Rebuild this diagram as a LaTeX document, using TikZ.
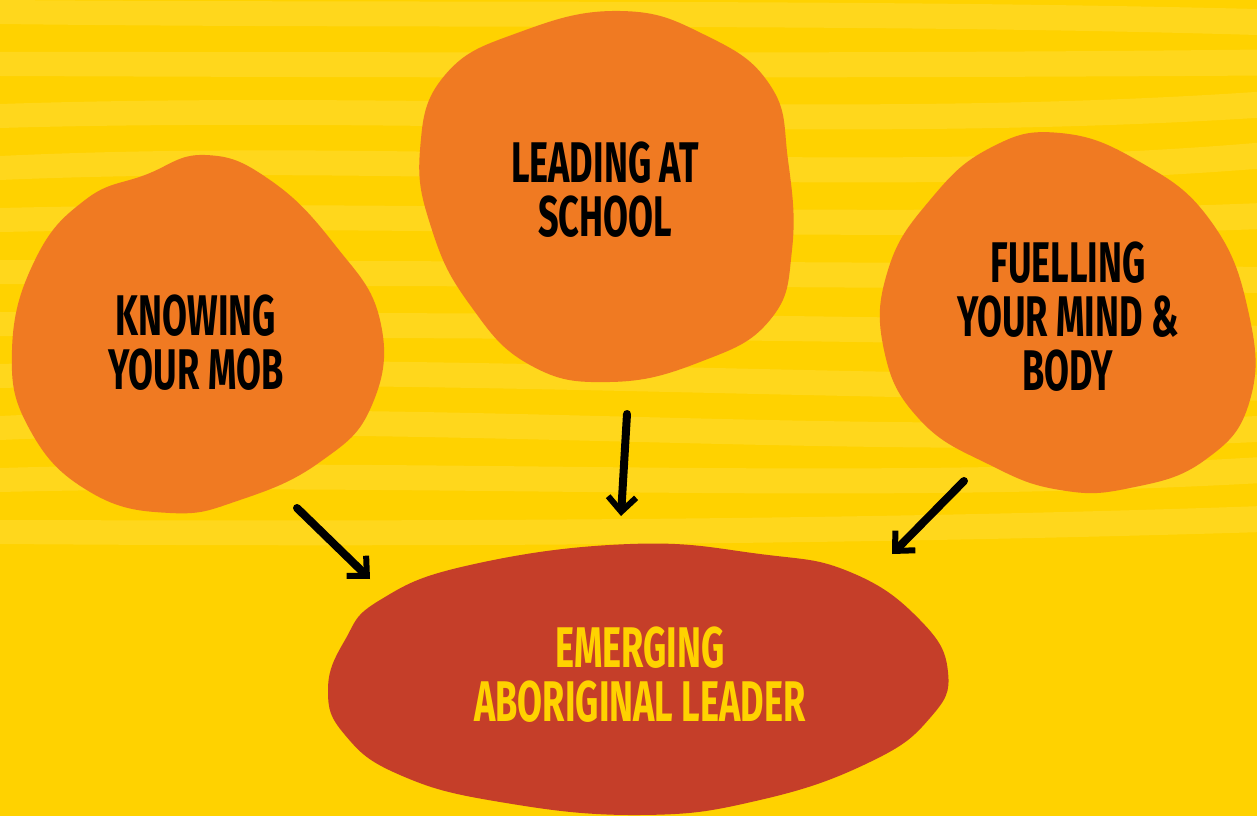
\documentclass[tikz,border=0pt]{standalone}
\usepackage{fontspec}
\newfontfamily\blobfont[FakeStretch=0.63]{Fira Sans}
\usetikzlibrary{arrows.meta}
\definecolor{bgyellow}{HTML}{FFD200}
\definecolor{bandyellow}{HTML}{FFD71C}
\definecolor{bloborange}{HTML}{F07A22}
\definecolor{blobred}{HTML}{C53E29}

\begin{document}
\begin{tikzpicture}[x=0.75pt,y=-0.75pt,
  topic node/.style={align=center,text=black,
    font=\blobfont\bfseries\fontsize{43}{40.5}\selectfont},
  goal node/.style={topic node,text=bgyellow},
  blob/.style={smooth cycle,tension=0.75},
  flow/.style={-{Straight Barb[length=11pt,width=21pt,line width=4.5pt]},
    line width=6pt,line cap=round}]

  \useasboundingbox (0,0) rectangle (1257,816);
  \clip (0,0) rectangle (1257,816);
  \fill[bgyellow] (0,0) rectangle (1257,816);

  % wavy stripes in the background
  \foreach \y [count=\i] in {0,52,...,520} {
    \pgfmathsetmacro\ya{\y+12*sin(\i*70)-8}
    \pgfmathsetmacro\yb{\y-12*sin(\i*70)+10}
    \pgfmathsetmacro\yc{\y+14*cos(\i*50)}
    \pgfmathsetmacro\yd{\y+14*cos(\i*50)+26}
    \pgfmathsetmacro\ye{\y-12*sin(\i*70)+34}
    \pgfmathsetmacro\yf{\y+12*sin(\i*70)+18}
    \fill[bandyellow] (0,\y) .. controls (420,\ya) and (840,\yb) .. (1257,\yc)
      -- (1257,\yd) .. controls (840,\ye) and (420,\yf) .. (0,\y+24) -- cycle;
  }

  % blobs
  \fill[bloborange] plot[blob] coordinates {
    (205,155) (270,180) (335,245) (380,320) (372,405) (320,462) (240,500)
    (170,513) (90,492) (30,430) (12,350) (35,260) (85,200) (145,175)};
  \fill[bloborange] plot[blob] coordinates {
    (620,11) (705,35) (770,85) (788,160) (792,250) (770,320) (700,362)
    (610,382) (530,365) (470,305) (432,230) (420,150) (445,75) (520,32)};
  \fill[bloborange] plot[blob] coordinates {
    (1060,133) (1140,162) (1210,220) (1248,310) (1250,400) (1205,460)
    (1130,488) (1060,490) (990,465) (920,420) (884,350) (888,270)
    (930,200) (990,148)};
  \fill[blobred] plot[blob] coordinates {
    (630,544) (760,554) (850,572) (920,620) (948,672) (930,718) (870,762)
    (760,800) (640,815) (500,802) (400,775) (345,735) (328,690) (345,640)
    (380,600) (470,565)};

  \node[topic node] (mob) at (196,343) {KNOWING\\YOUR MOB};
  \node[topic node] (school) at (605,190) {LEADING AT\\SCHOOL};
  \node[topic node] (fuel) at (1068,317) {FUELLING\\YOUR MIND \&\\BODY};
  \node[goal node] (leader) at (640,675) {EMERGING\\ABORIGINAL LEADER};

  \coordinate (mob out) at (297,508);
  \coordinate (school out) at (627,414);
  \coordinate (fuel out) at (964,481);
  \coordinate (leader in1) at (370,579);
  \coordinate (leader in2) at (621,516);
  \coordinate (leader in3) at (892,554);

  \draw[flow] (mob out) -- (leader in1);
  \draw[flow] (school out) -- (leader in2);
  \draw[flow] (fuel out) -- (leader in3);
\end{tikzpicture}
\end{document}
